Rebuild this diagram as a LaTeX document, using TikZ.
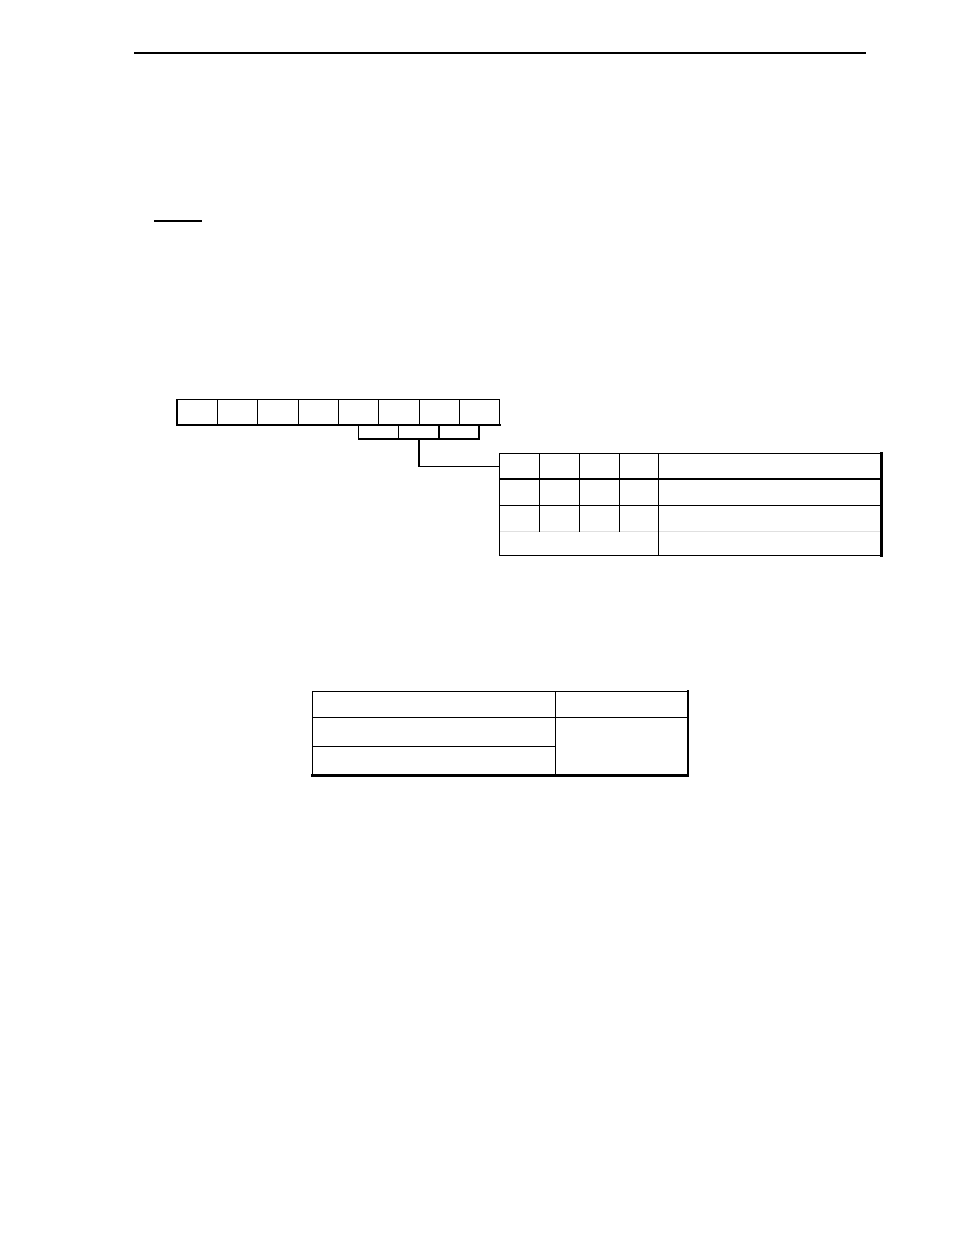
\documentclass[tikz,border=0pt]{standalone}
\begin{document}
\begin{tikzpicture}[x=0.75pt,y=-0.75pt,
  thin1/.style={line width=1.1pt,line cap=rect},
  thick2/.style={line width=1.9pt,line cap=rect},
  faint/.style={line width=0.9pt,draw=black!12}]
\useasboundingbox[fill=white] (0,0) rectangle (954,1235);
% header rule
\draw[thin1] (135,53) -- (865,53);
% short underline
\draw[thin1] (155,221) -- (201,221);
% register: 8 bit cells
\draw[thin1] (177,399.5) -- (499.3,399.5);
\draw[thick2] (177,425) -- (499.3,425);
\foreach \x in {177,217.3,257.5,298.3,338.7,378.7,419.3,459.3,499.3}
  \draw[thin1] (\x,399.5) -- (\x,425);
% sub boxes
\draw[thin1] (358.5,425) -- (358.5,439) -- (479,439) -- (479,425);
\draw[thin1] (398.7,425) -- (398.7,439);
\draw[thin1] (438.9,425) -- (438.9,439);
% connector
\coordinate (cA) at (419,439);
\coordinate (cB) at (499.3,466.3);
\draw[thin1] (cA) |- (cB);
% right table
\draw[thin1] (499.3,453.3) -- (881,453.3);
\draw[thin1] (499.3,479) -- (881,479);
\draw[thin1] (499.3,505.3) -- (881,505.3);
\draw[faint] (500,531.3) -- (880.3,531.3);
\draw[thin1] (499.3,555.7) -- (881,555.7);
\draw[thin1] (499.3,453.3) -- (499.3,555.7);
\foreach \x in {539.3,579.3,619.3}
  \draw[thin1] (\x,453.3) -- (\x,530.8);
\draw[thin1] (658.7,453.3) -- (658.7,555.7);
\draw[thick2] (881.3,453.3) -- (881.3,555.7);
% bottom table
\draw[thin1] (312.7,691.7) -- (688,691.7);
\draw[thin1] (312.7,717.7) -- (688,717.7);
\draw[thin1] (312.7,746.3) -- (555.7,746.3);
\draw[thick2] (312.7,775.7) -- (688,775.7);
\draw[thin1] (312.7,691.7) -- (312.7,775.7);
\draw[thin1] (555.7,691.7) -- (555.7,775.7);
\draw[thick2] (688,691.7) -- (688,775.7);
\end{tikzpicture}
\end{document}
